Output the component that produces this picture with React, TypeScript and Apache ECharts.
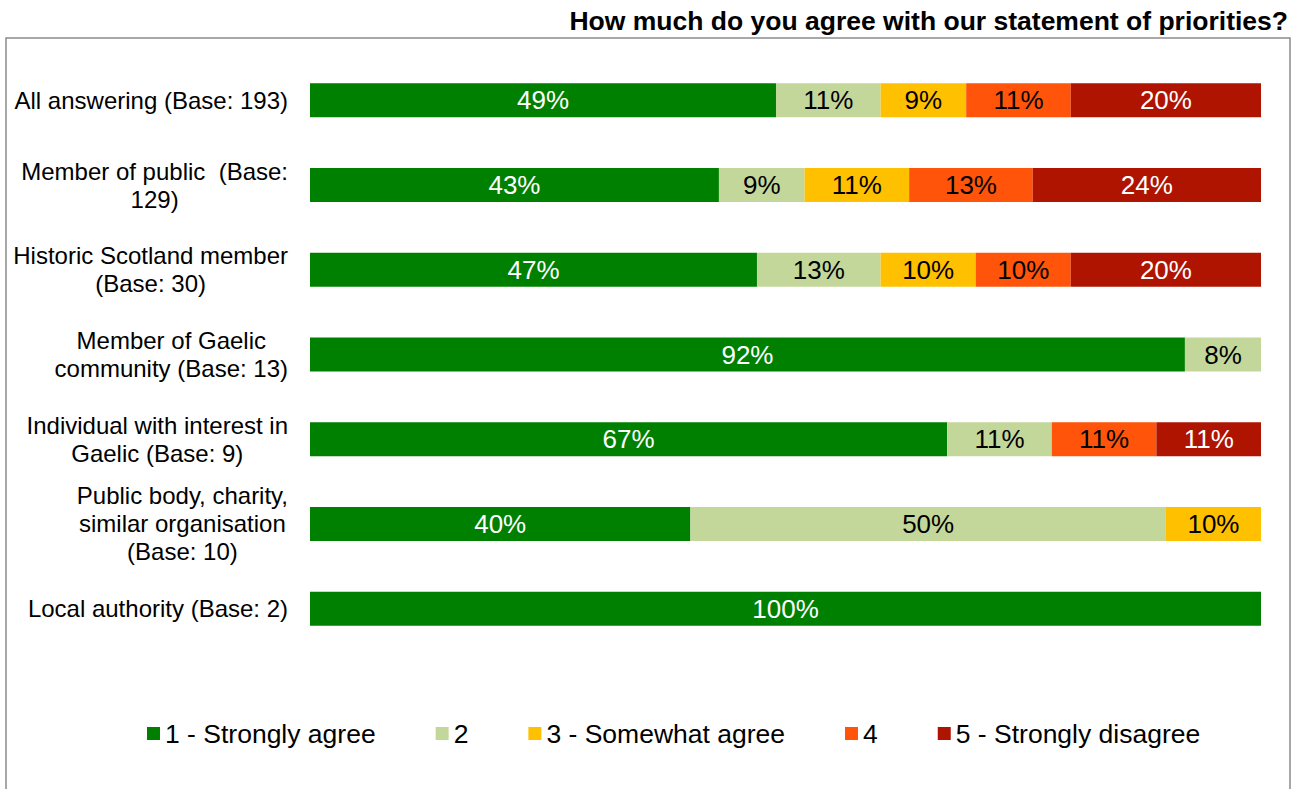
import React, { useEffect, useRef } from "react";
import * as echarts from "echarts";

const categories = [
  "All answering (Base: 193)",
  "Member of public  (Base:\n129)",
  "Historic Scotland member\n(Base: 30)",
  "Member of Gaelic\ncommunity (Base: 13)",
  "Individual with interest in\nGaelic (Base: 9)",
  "Public body, charity,\nsimilar organisation\n(Base: 10)",
  "Local authority (Base: 2)",
];

const seriesNames = [
  "1 - Strongly agree",
  "2",
  "3 - Somewhat agree",
  "4",
  "5 - Strongly disagree",
];

const stronglyAgree = [49, 43, 47, 92, 67, 40, 100];
const two = [11, 9, 13, 8, 11, 50, 0];
const somewhatAgree = [9, 11, 10, 0, 0, 10, 0];
const four = [11, 13, 10, 0, 11, 0, 0];
const stronglyDisagree = [20, 24, 20, 0, 11, 0, 0];

const seriesValues = [stronglyAgree, two, somewhatAgree, four, stronglyDisagree];
const colors = ["#008000", "#C4D79B", "#FFC000", "#FF5409", "#AE1400"];
const labelColors = ["#FFFFFF", "#000000", "#000000", "#000000", "#FFFFFF"];

const titleText = "How much do you agree with our statement of priorities?";
const FONT = "'Liberation Sans', Arial, sans-serif";

export default function App() {
  const ref = useRef<HTMLDivElement>(null);

  useEffect(() => {
    if (!ref.current) return;
    const chart = echarts.init(ref.current, null, { renderer: "svg" });
    const option: any = {
      animation: false,
      backgroundColor: "#ffffff",
      textStyle: { fontFamily: FONT },
      title: {
        text: titleText,
        right: 6,
        top: 7,
        padding: 0,
        textStyle: {
          fontFamily: FONT,
          fontWeight: "bold",
          fontSize: 26.5,
          color: "#000",
        },
      },
      graphic: [
        {
          type: "rect",
          shape: { x: 6, y: 38, width: 1284, height: 800 },
          style: { fill: "none", stroke: "#8c8c8c", lineWidth: 1.5 },
          silent: true,
          z: -1,
        },
      ],
      legend: {
        left: 147,
        top: 720,
        padding: 0,
        itemWidth: 13,
        itemHeight: 13,
        itemGap: 60,
        icon: "rect",
        data: seriesNames,
        textStyle: { fontFamily: FONT, fontSize: 26.5, color: "#000" },
      },
      grid: {
        left: 310,
        right: 33,
        top: 58,
        bottom: 138,
        containLabel: false,
      },
      xAxis: {
        type: "value",
        min: 0,
        max: 100,
        show: false,
      },
      yAxis: {
        type: "category",
        inverse: true,
        data: categories,
        axisLine: { show: false },
        axisTick: { show: false },
        splitLine: { show: false },
        axisLabel: {
          margin: 22,
          formatter: (v: string) =>
            v
              .split("\n")
              .map((l) => `{c|${l}}`)
              .join("\n"),
          rich: {
            c: {
              align: "center",
              fontFamily: FONT,
              fontSize: 24,
              lineHeight: 28,
              color: "#000",
            },
          },
        },
      },
      series: seriesNames.map((name, i) => ({
        name,
        type: "bar",
        stack: "total",
        barWidth: 34,
        data: seriesValues[i],
        itemStyle: { color: colors[i] },
        label: {
          show: true,
          position: "inside",
          color: labelColors[i],
          fontFamily: FONT,
          fontSize: 26,
          formatter: (p: any) => (p.value ? `${p.value}%` : ""),
        },
      })),
    };
    chart.setOption(option);
    return () => chart.dispose();
  }, []);

  return (
    <div
      ref={ref}
      style={{ position: "fixed", left: 0, top: 0, width: 1294, height: 789 }}
    />
  );
}
